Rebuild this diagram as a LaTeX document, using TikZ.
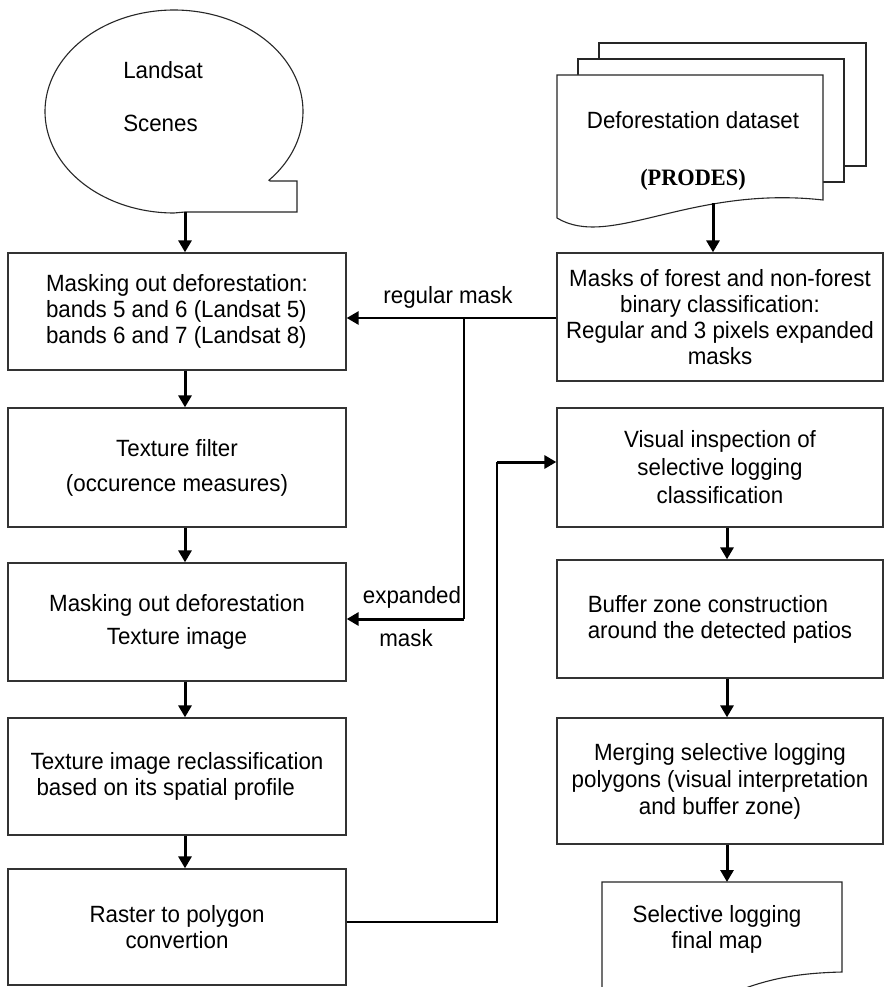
\documentclass[tikz,border=0pt]{standalone}
\usepackage{fontspec}
\setmainfont{Liberation Sans}[FakeStretch=0.95]
\newfontfamily\serifbold{Liberation Serif}[FakeStretch=0.95]
\usetikzlibrary{arrows.meta}
\begin{document}
\begin{tikzpicture}[x=1pt,y=-1pt,
  font=\fontsize{23.5}{26}\selectfont,
  box/.style={draw=black!80, line width=1.3pt, fill=white, inner sep=0pt, align=center, minimum height=#1},
  lbox/.style={box=#1, minimum width=338pt},
  rbox/.style={box=#1, minimum width=326pt},
  arr/.style={line width=3pt, -{Triangle[width=13pt,length=12pt]}},
  thinline/.style={line width=1.3pt},
  shapeline/.style={draw=black!85, line width=1.1pt, fill=white, line join=miter},
  txt/.style={inner sep=0pt, align=center}]
\useasboundingbox (0,0) rectangle (885,987);
\fill[white] (0,0) rectangle (885,987);
\clip (0,0) rectangle (885,987);

% Landsat scenes symbol
\draw[shapeline] (185,212) -- (297,212) -- (297,181) -- (270,181)
  -- plot[domain=42.6:-270, samples=180] ({174+129*cos(\x)},{111.5+101.5*sin(\x)}) -- cycle;
\node[txt, align=left] (landsat) at (163,96.5) {Landsat\\[27pt]Scenes};
\coordinate (lsbot) at (185,212);

% Deforestation dataset (multi document)
\draw[shapeline] (599,43) rectangle (866,166);
\draw[shapeline] (578,59) rectangle (844,182);
\draw[shapeline] (557,75) -- (823,75) -- (823,200) .. controls (690,185) and (610,250) .. (557,218) -- cycle;
\node[txt] (prodes) at (693,150.5) {Deforestation dataset\\[31pt]{\serifbold\bfseries (PRODES)}};
\coordinate (docbot) at (713,203);

% Left column
\node[lbox=117pt, align=left] (b1) at (177,311.5) {Masking out deforestation:\\bands 5 and 6 (Landsat 5)\\bands 6 and 7 (Landsat 8)};
\node[lbox=119pt] (b2) at (177,467.5) {Texture filter\\[9pt](occurence measures)};
\node[lbox=118pt] (b3) at (177,622) {Masking out deforestation\\[7pt]Texture image};
\node[lbox=117pt, align=left] (b4) at (177,776.5) {Texture image reclassification\\\hspace*{6pt}based on its spatial profile};
\node[lbox=116pt] (b5) at (177,927) {Raster to polygon\\convertion};

% Right column
\node[rbox=128pt] (masks) at (720,317) {Masks of forest and non-forest\\binary classification:\\Regular and 3 pixels expanded\\masks};
\node[rbox=119pt] (visual) at (720,467.5) {Visual inspection of\\[2pt]selective logging\\[2pt]classification};
\node[rbox=118pt, align=left] (buffer) at (720,619) {Buffer zone construction\\around the detected patios};
\node[rbox=126pt] (merging) at (720,781) {Merging selective logging\\[1pt]polygons (visual interpretation\\[1pt]and buffer zone)};

% Final map document
\draw[shapeline] (602,1000) -- (602,882) -- (842,882) -- (842,972)
  .. controls (800,973) and (770,978) .. (735,992) -- (700,1000) -- cycle;
\node[txt] (final) at (717,929) {Selective logging\\final map};
\coordinate (finaltop) at (727,882);

% helper coordinates
\coordinate (lc) at (185,0);
\coordinate (rc) at (727,0);
\coordinate (yreg) at (0,318);
\coordinate (jreg) at (464,318);
\coordinate (jexp) at (464,619);
\coordinate (jr) at (497,922);
\coordinate (jv) at (497,462);

% left column arrows
\draw[arr] (lsbot) -- (b1.north -| lsbot);
\draw[arr] (b1.south -| lc) -- (b2.north -| lc);
\draw[arr] (b2.south -| lc) -- (b3.north -| lc);
\draw[arr] (b3.south -| lc) -- (b4.north -| lc);
\draw[arr] (b4.south -| lc) -- (b5.north -| lc);

% right column arrows
\draw[arr] (docbot) -- (masks.north -| docbot);
\draw[arr] (visual.south -| rc) -- (buffer.north -| rc);
\draw[arr] (buffer.south -| rc) -- (merging.north -| rc);
\draw[arr] (merging.south -| rc) -- (finaltop);

% masks
\draw[arr, line width=2.7pt] (masks.west |- yreg) -- (b1.east |- yreg);
\draw[thinline] (jreg) -- (jexp);
\draw[arr] (jexp) -- (b3.east |- jexp);
\node[txt] (lreg) at (448,297) {regular mask};
\node[txt] (lexp1) at (412,597) {expanded};
\node[txt] (lexp2) at (406,638) {mask};

% raster to visual inspection
\draw[thinline] (b5.east |- jr) -- (jr) -- (jv);
\draw[arr] (jv) -- (visual.west |- jv);
\end{tikzpicture}
\end{document}
